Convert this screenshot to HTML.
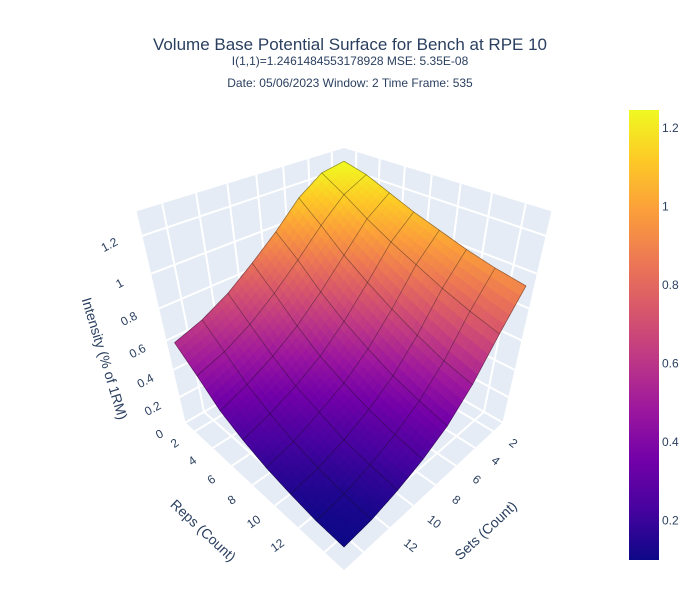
<!DOCTYPE html>
<html><head><meta charset="utf-8"><style>
body{margin:0;background:#fff;}
svg{font-family:"Liberation Sans",sans-serif;}
</style></head><body>
<svg id="chart" width="700" height="600" viewBox="0 0 700 600">
<rect width="700" height="600" fill="#fff"/>
<text x="350" y="50" text-anchor="middle" font-size="17" fill="#2a3f5f">Volume Base Potential Surface for Bench at RPE 10</text>
<text x="350" y="65" text-anchor="middle" font-size="12" fill="#2a3f5f">I(1,1)=1.2461484553178928  MSE: 5.35E-08</text>
<text x="350" y="87" text-anchor="middle" font-size="12" fill="#2a3f5f">Date: 05/06/2023  Window: 2  Time Frame: 535</text>
<g id="scene"></g>
<g id="cbar"></g>
</svg>
<script>
const repsGrid=[1,3,5,7,9,11,13,15];
const setsGrid=[1,3,5,7,9,11,13,15];
const zRows=[
[1.246,1.22,1.12,0.97,0.84,0.72,0.63,0.57],
[1.21,1.14,1.01,0.86,0.72,0.60,0.51,0.45],
[1.15,1.05,0.89,0.73,0.59,0.48,0.39,0.32],
[1.09,0.97,0.79,0.62,0.48,0.38,0.30,0.24],
[1.04,0.90,0.70,0.53,0.40,0.31,0.23,0.18],
[0.99,0.83,0.62,0.45,0.33,0.24,0.18,0.14],
[0.95,0.77,0.55,0.39,0.28,0.20,0.14,0.11],
[0.92,0.72,0.50,0.34,0.24,0.17,0.12,0.10]];
const repsTicks=[2,4,6,8,10,12];
const setsTicks=[2,4,6,8,10,12];
const gridTicks=[2,4,6,8,10,12,14];
const zTicks=[0,0.2,0.4,0.6,0.8,1,1.2];
const zTickLabels=["0","0.2","0.4","0.6","0.8","1","1.2"];
const cbarTicks=[0.2,0.4,0.6,0.8,1,1.2];
const cbarTickLabels=["0.2","0.4","0.6","0.8","1","1.2"];
const xRange=[0.9,15.4], yRange=[0.9,15.4], zRange=[0,1.32], cRange=[0.1,1.246];

const NS="http://www.w3.org/2000/svg";
const plasma=["#0d0887","#46039f","#7201a8","#9c179e","#bd3786","#d8576b","#ed7953","#fb9f3a","#fdca26","#f0f921"];
function hx(h){return [parseInt(h.substr(1,2),16),parseInt(h.substr(3,2),16),parseInt(h.substr(5,2),16)];}
function cmap(v){let t=(v-cRange[0])/(cRange[1]-cRange[0]);t=Math.max(0,Math.min(1,t));
 const p=t*(plasma.length-1);const i=Math.min(plasma.length-2,Math.floor(p));const f=p-i;
 const a=hx(plasma[i]),b=hx(plasma[i+1]);
 return "rgb("+a.map((c,k)=>Math.round(c+(b[k]-c)*f)).join(",")+")";}
const nx=r=>-1+2*(r-xRange[0])/(xRange[1]-xRange[0]);
const ny=s=>-1+2*(s-yRange[0])/(yRange[1]-yRange[0]);
const nz=z=>-1+2*(z-zRange[0])/(zRange[1]-zRange[0]);
const S=550,CX=344,CY=331,E=2.5;
function proj(X,Y,Z){const a=X-E,b=Y-E,c=Z-E;const d=-(a+b+c)/Math.sqrt(3);
 const rt=(a-b)/Math.SQRT2, up=(-a-b+2*c)/Math.sqrt(6);
 return [CX+S*rt/d, CY-S*up/d, d];}
const scene=document.getElementById("scene");
function el(tag,attrs,parent){const e=document.createElementNS(NS,tag);for(const k in attrs)e.setAttribute(k,attrs[k]);(parent||scene).appendChild(e);return e;}
function pts(arr){return arr.map(p=>p[0].toFixed(1)+","+p[1].toFixed(1)).join(" ");}

const wallFill="#e5ecf6";
let w=el("polygon",{points:pts([proj(-1,-1,-1),proj(-1,1,-1),proj(-1,1,1),proj(-1,-1,1)]),fill:wallFill});


w=el("polygon",{points:pts([proj(-1,-1,-1),proj(1,-1,-1),proj(1,-1,1),proj(-1,-1,1)]),fill:wallFill});


w=el("polygon",{points:pts([proj(-1,-1,-1),proj(1,-1,-1),proj(1,1,-1),proj(-1,1,-1)]),fill:wallFill});


function gline(p,q,name){const l=el("line",{x1:p[0],y1:p[1],x2:q[0],y2:q[1],stroke:"#fff","stroke-width":2});
 
 }
gridTicks.forEach(r=>{const X=nx(r);gline(proj(X,-1,-1),proj(X,1,-1),"floor-gridline-reps");gline(proj(X,-1,-1),proj(X,-1,1),"wall-gridline-reps");});
gridTicks.forEach(s=>{const Y=ny(s);gline(proj(-1,Y,-1),proj(1,Y,-1),"floor-gridline-sets");gline(proj(-1,Y,-1),proj(-1,Y,1),"wall-gridline-sets");});
zTicks.forEach(z=>{const Z=nz(z);gline(proj(-1,-1,Z),proj(-1,1,Z),"wall-gridline-z");gline(proj(-1,-1,Z),proj(1,-1,Z),"wall-gridline-z");});

const sub=5, quads=[];
function zAt(i,j,u,v){const i1=Math.min(i+1,repsGrid.length-1),j1=Math.min(j+1,setsGrid.length-1);
 return zRows[i][j]*(1-u)*(1-v)+zRows[i1][j]*u*(1-v)+zRows[i][j1]*(1-u)*v+zRows[i1][j1]*u*v;}
function rAt(i,u){const i1=Math.min(i+1,repsGrid.length-1);return repsGrid[i]+(repsGrid[i1]-repsGrid[i])*u;}
function sAt(j,v){const j1=Math.min(j+1,setsGrid.length-1);return setsGrid[j]+(setsGrid[j1]-setsGrid[j])*v;}
function P(i,j,u,v){return proj(nx(rAt(i,u)),ny(sAt(j,v)),nz(zAt(i,j,u,v)));}
for(let i=0;i<repsGrid.length-1;i++)for(let j=0;j<setsGrid.length-1;j++)
 for(let a=0;a<sub;a++)for(let b=0;b<sub;b++){
  const u0=a/sub,u1=(a+1)/sub,v0=b/sub,v1=(b+1)/sub;
  const ps=[P(i,j,u0,v0),P(i,j,u1,v0),P(i,j,u1,v1),P(i,j,u0,v1)];
  const zc=zAt(i,j,(u0+u1)/2,(v0+v1)/2);
  const d=(ps[0][2]+ps[1][2]+ps[2][2]+ps[3][2])/4;
  quads.push({ps,zc,d});}
quads.sort((p,q)=>q.d-p.d);
const sg=el("g",{});


quads.forEach(q=>{const c=cmap(q.zc);const e=el("polygon",{points:pts(q.ps),fill:c,stroke:c,"stroke-width":0.6},sg);
 
 });
for(let i=0;i<repsGrid.length;i++){const line=[];
 for(let j=0;j<setsGrid.length;j++)line.push(proj(nx(repsGrid[i]),ny(setsGrid[j]),nz(zRows[i][j])));
 const e=el("polyline",{points:pts(line),fill:"none",stroke:"rgba(20,20,20,0.45)","stroke-width":0.7},sg);
 
 }
for(let j=0;j<setsGrid.length;j++){const line=[];
 for(let i=0;i<repsGrid.length;i++)line.push(proj(nx(repsGrid[i]),ny(setsGrid[j]),nz(zRows[i][j])));
 const e=el("polyline",{points:pts(line),fill:"none",stroke:"rgba(20,20,20,0.45)","stroke-width":0.7},sg);
 
 }

function tlabel(p,txt,name,rot){const x=p[0],y=p[1];
 const t=el("text",{x:x.toFixed(1),y:(y+4).toFixed(1),"font-size":12,fill:"#2a3f5f","text-anchor":"middle",transform:"rotate("+rot+" "+x.toFixed(1)+" "+y.toFixed(1)+")"});
 t.textContent=txt;
 
 }
repsTicks.forEach(r=>tlabel(proj(nx(r),1.2,-1),String(r),"reps-tick-label",-35));
setsTicks.forEach(s=>tlabel(proj(1.2,ny(s),-1),String(s),"sets-tick-label",38));
zTicks.forEach((z,k)=>{const p=proj(-1,1.2,nz(z));tlabel([p[0]-6,p[1]],zTickLabels[k],"z-tick-label",-28);});
function title(x,y,rot,txt,name){const t=el("text",{x:x,y:y,"font-size":14,fill:"#2a3f5f","text-anchor":"middle",transform:"rotate("+rot+" "+x+" "+y+")"});
 t.textContent=txt;
 
 }
title(200,534,43,"Reps (Count)","reps-axis-title");
title(489,534,-43,"Sets (Count)","sets-axis-title");
title(100,360,73,"Intensity (% of 1RM)","z-axis-title");

const cb=document.getElementById("cbar");
const defs=el("defs",{},cb);
const lg=el("linearGradient",{id:"cg",x1:0,y1:1,x2:0,y2:0},defs);
plasma.forEach((c,k)=>el("stop",{offset:(k/(plasma.length-1)),"stop-color":c},lg));
const cbTop=110,cbBot=560;
const cy=v=>cbBot-(v-cRange[0])/(cRange[1]-cRange[0])*(cbBot-cbTop);
const cr=el("rect",{x:629,y:cbTop,width:30,height:cbBot-cbTop,fill:"url(#cg)"},cb);


cbarTicks.forEach((v,k)=>{const t=el("text",{x:662,y:(cy(v)+4).toFixed(1),"font-size":12,fill:"#2a3f5f"},cb);
 t.textContent=cbarTickLabels[k];
 
 });
</script>
</body></html>
